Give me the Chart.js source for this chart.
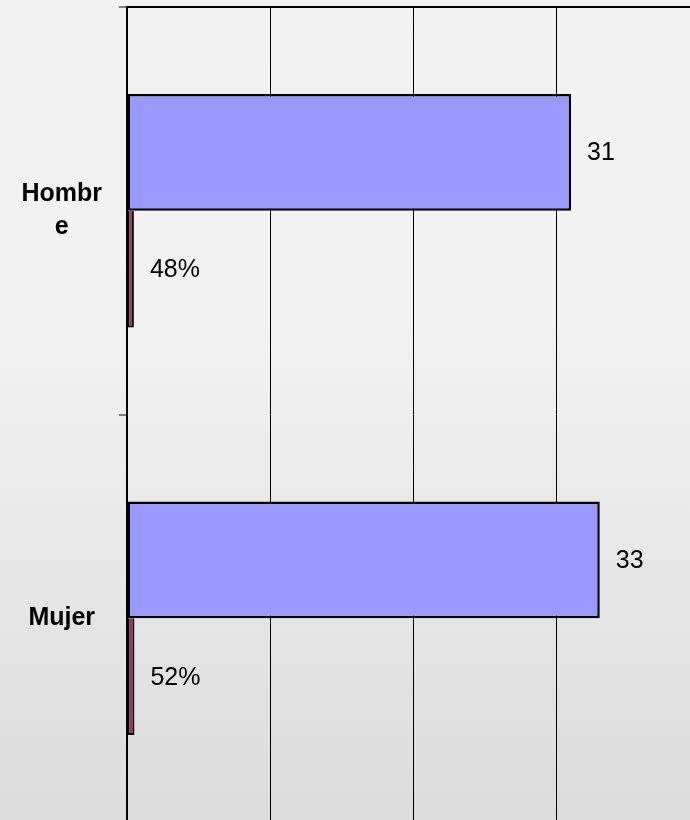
<!DOCTYPE html>
<html>
<head>
<meta charset="utf-8">
<script src="https://cdn.jsdelivr.net/npm/chart.js@4"></script>
<style>
  html, body { margin: 0; padding: 0; overflow: hidden; }
  body {
    width: 690px; height: 820px;
    background: linear-gradient(#f2f2f2 0%, #f1f1f1 40%, #dcdcdc 100%);
  }
  #wrap { position: absolute; left: 0; top: 0; width: 690px; height: 822px; }
</style>
</head>
<body>
<div id="wrap"><canvas id="genderChart"></canvas></div>
<script>
// chart data
const categories = [['Hombr', 'e'], 'Mujer'];
const counts = [31, 33];
const shares = [0.48, 0.52];

const AXIS_MAX = 39.3; // chart is cut at the right edge, 40 falls just outside

// draws the value next to each bar
const valueLabels = {
  id: 'valueLabels',
  afterDatasetsDraw(chart) {
    const ctx = chart.ctx;
    ctx.save();
    ctx.font = '25px Arial, "Liberation Sans", sans-serif';
    ctx.fillStyle = '#000';
    ctx.textAlign = 'left';
    ctx.textBaseline = 'middle';
    chart.data.datasets.forEach((ds, i) => {
      const meta = chart.getDatasetMeta(i);
      meta.data.forEach((bar, j) => {
        const v = ds.data[j];
        const txt = ds.isShare ? `${Math.round(v * 100)}%` : `${v}`;
        ctx.fillText(txt, bar.x + 16, bar.y + 1);
      });
    });
    ctx.restore();
  }
};

const ctx = document.getElementById('genderChart').getContext('2d');
const myChart = new Chart(ctx, {
  type: 'bar',
  data: {
    labels: categories,
    datasets: [
      {
        label: 'Cantidad',
        data: counts,
        backgroundColor: '#9999ff',
        borderColor: '#000',
        borderWidth: 2.5,
        borderSkipped: false
      },
      {
        label: 'Porcentaje',
        data: shares,
        isShare: true,
        backgroundColor: '#993366',
        borderColor: '#000',
        borderWidth: 2,
        borderSkipped: 'top'
      }
    ]
  },
  options: {
    indexAxis: 'y',
    responsive: true,
    maintainAspectRatio: false,
    animation: false,
    categoryPercentage: 0.5735,
    barPercentage: 1,
    layout: { padding: { top: 7, right: 0, bottom: 0, left: 0 } },
    plugins: {
      legend: { display: false },
      tooltip: { enabled: false }
    },
    scales: {
      x: {
        min: 0,
        max: AXIS_MAX,
        ticks: { display: false, stepSize: 10, includeBounds: false },
        grid: { color: '#000', lineWidth: 1, drawTicks: false },
        border: { display: false }
      },
      x2: {
        position: 'top',
        min: 0,
        max: 1,
        ticks: { display: false },
        grid: { display: false, drawTicks: false },
        border: { display: true, color: '#000', width: 2 }
      },
      y: {
        afterFit: (scale) => {
          scale.width = 127;
          scale.paddingTop = 0;
          scale.paddingBottom = 0;
        },
        ticks: {
          color: '#000',
          crossAlign: 'center',
          padding: 17,
          font: { family: 'Arial, "Liberation Sans", sans-serif', size: 25, weight: 'bold', lineHeight: 1.32 }
        },
        grid: {
          offset: true,
          drawOnChartArea: false,
          drawTicks: true,
          tickLength: 8,
          color: '#808080',
          lineWidth: 2
        },
        border: { display: true, color: '#000', width: 2 }
      }
    }
  },
  plugins: [valueLabels]
});
</script>
</body>
</html>
